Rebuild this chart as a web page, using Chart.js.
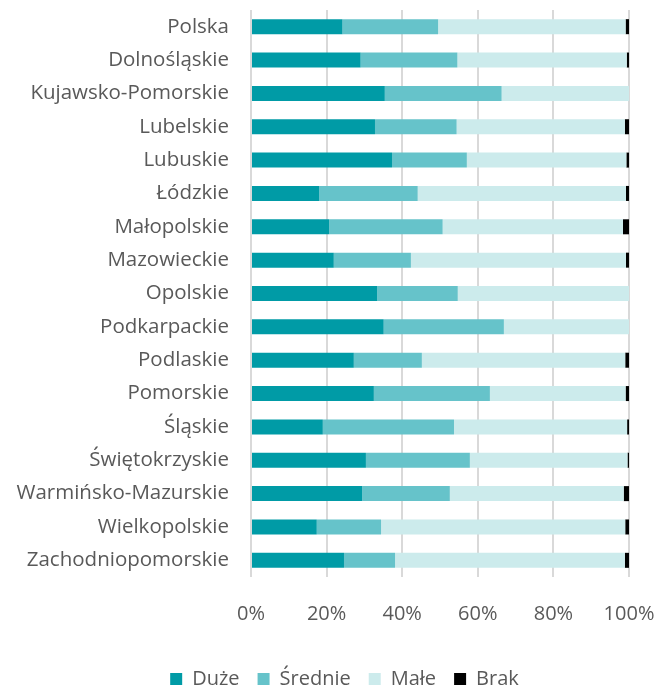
<!DOCTYPE html>
<html>
<head>
<meta charset="utf-8">
<script src="https://cdn.jsdelivr.net/npm/chart.js@4"></script>
<style>
html,body{margin:0;padding:0;background:#fff;}
#c{display:block;}
</style>
</head>
<body>
<canvas id="c" width="659" height="688"></canvas>
<script>
const categories = ["Polska","Dolnośląskie","Kujawsko-Pomorskie","Lubelskie","Lubuskie","Łódzkie","Małopolskie","Mazowieckie","Opolskie","Podkarpackie","Podlaskie","Pomorskie","Śląskie","Świętokrzyskie","Warmińsko-Mazurskie","Wielkopolskie","Zachodniopomorskie"];
const duze    = [24.2,29.0,35.4,32.8,37.3,18.0,20.7,21.9,33.4,35.1,27.2,32.5,19.0,30.4,29.4,17.4,24.6];
const srednie = [25.3,25.6,30.9,21.6,19.8,26.1,30.0,20.4,21.3,31.8,18.0,30.7,34.7,27.5,23.2,17.0,13.5];
const male    = [49.6,44.8,33.7,44.5,42.2,55.1,47.7,56.9,45.3,33.1,53.8,35.9,45.8,41.7,46.0,64.6,60.8];
const brak    = [0.9,0.6,0.0,1.1,0.7,0.8,1.6,0.8,0.0,0.0,1.0,0.9,0.5,0.4,1.4,1.0,1.1];
const seriesNames = ["Duże","Średnie","Małe","Brak"];
const xTickStep = 20;

const colors = ["#009BA6","#66C3CA","#CCEBEC","#000000"];
const FONT = "'Open Sans', sans-serif";
const TXT = "#595959";

const legendShift = {
  id: "legendShift",
  afterLayout(chart) {
    if (chart.legend) { chart.legend.left += 30; chart.legend.right += 30; }
  }
};

new Chart(document.getElementById("c"), {
  type: "bar",
  plugins: [legendShift],
  data: {
    labels: categories,
    datasets: [duze, srednie, male, brak].map((d, i) => ({
      label: seriesNames[i],
      data: d,
      backgroundColor: colors[i],
      borderWidth: 0,
      barPercentage: 0.45,
      categoryPercentage: 1.0
    }))
  },
  options: {
    indexAxis: "y",
    responsive: false,
    animation: false,
    layout: { padding: { top: 10, right: 30, bottom: -11, left: 0 } },
    scales: {
      x: {
        stacked: true,
        min: 0, max: 100,
        grid: { color: "#D9D9D9", lineWidth: 2, drawTicks: false },
        border: { display: false },
        ticks: { stepSize: xTickStep, color: TXT, font: { family: FONT, size: 20, lineHeight: "18px" }, padding: 28, callback: v => v + "%" },
        afterFit: s => { s.paddingLeft = 0; s.paddingRight = 0; }
      },
      y: {
        stacked: true,
        grid: { display: false, drawTicks: false },
        border: { display: false },
        ticks: { color: TXT, font: { family: FONT, size: 20.5 }, padding: 22, autoSkip: false },
        afterFit: s => { s.width = 251; s.paddingTop = 0; s.paddingBottom = 0; }
      }
    },
    plugins: {
      legend: {
        position: "bottom",
        labels: { color: TXT, font: { family: FONT, size: 20 }, boxWidth: 12, boxHeight: 12, padding: 18 }
      },
      tooltip: { enabled: false }
    }
  }
});
</script>
</body>
</html>
